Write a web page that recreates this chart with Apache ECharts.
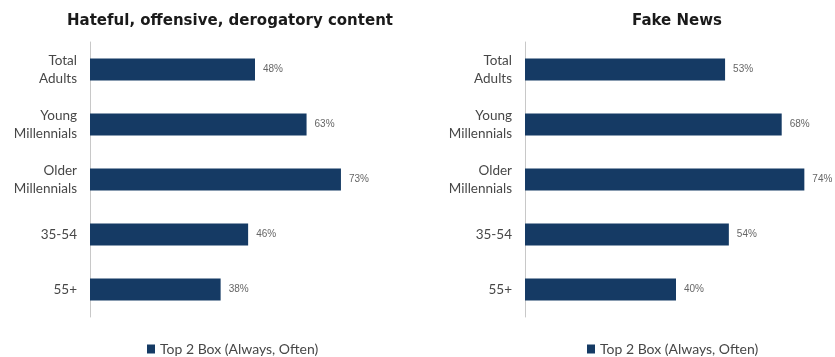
<!DOCTYPE html>
<html>
<head>
<meta charset="utf-8">
<script src="https://cdn.jsdelivr.net/npm/echarts@6/dist/echarts.min.js"></script>
<style>
  html, body { margin: 0; padding: 0; background: #fff; }
  #chart { width: 835px; height: 357px; }
</style>
</head>
<body>
<div id="chart"></div>
<script>
// Age groups shown on both panels
const categories = ['Total\nAdults', 'Young\nMillennials', 'Older\nMillennials', '35-54', '55+'];
// Share answering Always/Often (%)
const hatefulValues = [48, 63, 73, 46, 38];
const fakeNewsValues = [53, 68, 74, 54, 40];
const panelTitles = ['Hateful, offensive, derogatory content', 'Fake News'];
const seriesName = 'Top 2 Box (Always, Often)';

const barColor = '#153a64';
const textColor = '#474747';

function yAxis(gridIndex) {
  return {
    type: 'category', gridIndex, data: categories, inverse: true,
    axisLine: { lineStyle: { color: '#c8c8c8', width: 1 } },
    axisTick: { show: false },
    axisLabel: { color: textColor, fontFamily: 'Lato', fontSize: 13.5, lineHeight: 18, align: 'right', margin: 13 }
  };
}
function xAxis(gridIndex) {
  return { type: 'value', gridIndex, min: 0, max: 80, show: false };
}
function barSeries(idx, values) {
  return {
    type: 'bar', name: seriesName, xAxisIndex: idx, yAxisIndex: idx,
    data: values, barWidth: 22, itemStyle: { color: barColor },
    label: {
      show: true, position: 'right', distance: 8,
      formatter: p => p.value + '%', color: '#666', fontFamily: 'Liberation Sans', fontSize: 10
    }
  };
}

const titleStyle = { fontFamily: 'DejaVu Sans', fontWeight: 'bold', fontSize: 15, color: '#1a1a1a' };
const legendText = { color: textColor, fontFamily: 'Lato', fontSize: 14 };

const chart = echarts.init(document.getElementById('chart'), null, { renderer: 'canvas' });
chart.setOption({
  animation: false,
  title: [
    { text: panelTitles[0], left: 225, top: 9, textAlign: 'center', textStyle: titleStyle },
    { text: panelTitles[1], left: 672, top: 9, textAlign: 'center', textStyle: titleStyle }
  ],
  grid: [
    { left: 90, top: 42, width: 275, height: 275 },
    { left: 525, top: 42, width: 302, height: 275 }
  ],
  xAxis: [xAxis(0), xAxis(1)],
  yAxis: [yAxis(0), yAxis(1)],
  legend: [
    { data: [seriesName], left: 142, top: 337, itemWidth: 8, itemHeight: 9, itemGap: 4,
      icon: 'rect', textStyle: legendText },
    { data: [seriesName], left: 582, top: 337, itemWidth: 8, itemHeight: 9, itemGap: 4,
      icon: 'rect', textStyle: legendText }
  ],
  series: [barSeries(0, hatefulValues), barSeries(1, fakeNewsValues)]
});
</script>
</body>
</html>
